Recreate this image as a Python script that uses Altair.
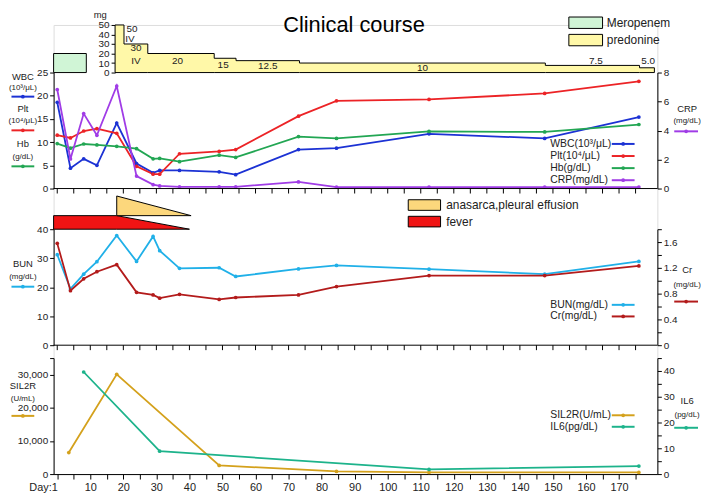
import altair as alt
import pandas as pd

FONT = "Liberation Sans, Arial, sans-serif"
XMIN, XMAX = -1.1, 181.6
W = 609

# ---------------- data ----------------
days = [0, 4, 8, 12, 18, 24, 29, 31, 37, 49, 54, 73, 84.5, 112.5, 147.5, 176]
wbc = [18.6, 4.4, 6.4, 5.0, 14.1, 5.4, 3.4, 3.9, 3.9, 3.6, 3.0, 8.4, 8.7, 11.8, 10.8, 15.4]
plt_ = [11.5, 10.9, 12.4, 12.9, 11.9, 4.8, 3.1, 3.1, 7.5, 8.0, 8.4, 15.6, 18.9, 19.2, 20.5, 23.1]
hb = [9.7, 8.7, 9.6, 9.4, 9.1, 8.6, 6.4, 6.5, 5.8, 7.2, 6.7, 11.2, 10.8, 12.3, 12.2, 13.8]
crp = [6.83, 2.04, 5.17, 3.67, 7.07, 0.86, 0.27, 0.18, 0.12, 0.12, 0.12, 0.46, 0.1, 0.1, 0.1, 0.1]
bun = [31.2, 19.4, 24.5, 28.8, 37.8, 28.9, 37.5, 32.6, 26.5, 26.7, 23.7, 26.3, 27.5, 26.2, 24.5, 28.9]
cr = [1.58, 0.845, 1.03, 1.14, 1.25, 0.82, 0.78, 0.73, 0.79, 0.71, 0.74, 0.78, 0.91, 1.08, 1.08, 1.23]

sil2r_days = [3.5, 18, 49, 84.5, 112.5, 176]
sil2r = [6500, 30100, 2600, 800, 500, 500]
il6_days = [8, 31, 112.5, 176]
il6 = [39.6, 8.9, 1.8, 3.1]

pred_days = [17.5, 20.2, 27.4, 47.5, 54.1, 73.3, 147.7, 176.2, 180.7]
pred_dose = [50, 30, 20, 15, 12.5, 10, 7.5, 5.0, 5.0]
pred_text = ["50", "IV", "30", "IV", "20", "15", "12.5", "10", "7.5", "5.0"]
pred_text_day = [22.6, 22.0, 23.8, 23.8, 36.4, 50.2, 63.7, 110.5, 163.0, 178.8]
pred_text_mg = [45.4, 35.0, 26.0, 12.5, 12.5, 7.8, 6.5, 4.6, 12.5, 11.6]

mero_days = [XMIN, 8.8]
mero_dose = [0, 20]

fever_days = [XMIN, 18, 40]
fever_top = [1, 1, 0]
anas_days = [18, 40.5]
anas_top = [2.45, 1]
anas_base = [1, 1]

tick_days = list(range(0, 176, 5))

# ---------------- styles ----------------
BLUE = "#1c32d4"
RED = "#ec2326"
GREEN = "#22a653"
PURPLE = "#a03ce6"
LBLUE = "#20b0e8"
DRED = "#b31b1b"
GOLD = "#d4a11c"
TEAL = "#1db38b"
MERO = "#d0f5d6"
PRED = "#fff8a8"
ANAS = "#fcd77c"
FEVER = "#f01414"
TXT = "#222222"

# ---------------- vertical layout (pixels from the top of the plot) ----------------
T0, PH = 0, 48                 # prednisone strip
T1, H1 = T0 + PH, 117          # WBC / Plt / Hb / CRP
T2, BAND, H2 = T1 + H1, 41, 117  # fever band + BUN / Cr
T3, GAP, H3 = T2 + BAND + H2, 13, 117  # SIL2R / IL6
HT = T3 + GAP + H3

xs = alt.Scale(domain=[XMIN, XMAX], nice=False, zero=False)

AXB = alt.Axis(
    values=tick_days, tickSize=5, tickColor="black", domainColor="black",
    grid=False, title=None,
    labelExpr="datum.value == 0 ? 'Day:1' : (datum.value % 10 == 0 ? datum.label : '')",
    labelFont=FONT, labelFontSize=11, labelColor=TXT, labelPadding=3,
    labelFlush=False, labelOverlap=False,
    labelAlign={"condition": {"test": "datum.value == 0", "value": "right"}, "value": "center"},
)


def yaxis(orient, values, expr=None, offset=None, size=10):
    kw = dict(orient=orient, values=values, tickSize=4, tickColor="black", domainColor="black",
              title=None, grid=False, labelFont=FONT, labelFontSize=size, labelColor=TXT,
              labelPadding=2, labelOverlap=False, labelFlush=False)
    if expr:
        kw["labelExpr"] = expr
    if offset is not None:
        kw["offset"] = offset
    return alt.Axis(**kw)


def yscale(domain, top, height):
    return alt.Scale(domain=domain, range=[top + height, top], nice=False, zero=True)


def series(d, v, color, ysc, yax):
    df = pd.DataFrame({"day": d, "v": v})
    return alt.Chart(df).mark_line(
        color=color, strokeWidth=1.8,
        point=alt.OverlayMarkDef(color=color, filled=True, size=14)
    ).encode(x=alt.X("day:Q", scale=xs, axis=AXB), y=alt.Y("v:Q", scale=ysc, axis=yax))


def text_at(t, x, y, size=10.5, align="center", baseline="middle", color=TXT):
    d = pd.DataFrame({"t": [t]})
    return alt.Chart(d).mark_text(font=FONT, fontSize=size, align=align, baseline=baseline,
                                  color=color).encode(x=alt.value(x), y=alt.value(y), text="t:N")


def hline(y, x0=0, x1=W, color="black", width=1):
    d = pd.DataFrame({"t": [0]})
    return alt.Chart(d).mark_rule(color=color, strokeWidth=width).encode(
        x=alt.value(x0), x2=alt.value(x1), y=alt.value(y))


def box(x0, x1, y0, y1, fill):
    d = pd.DataFrame({"t": [0]})
    return alt.Chart(d).mark_rect(fill=fill, stroke="black", strokeWidth=1).encode(
        x=alt.value(x0), x2=alt.value(x1), y=alt.value(y0), y2=alt.value(y1))


def bottom_ticks(h):
    """base line and day ticks under the upper panels (labels only under the last one)."""
    td = pd.DataFrame({"day": tick_days})
    ticks = alt.Chart(td).mark_rule(color="black", strokeWidth=1).encode(
        x=alt.X("day:Q", scale=xs, axis=AXB), y=alt.value(h), y2=alt.value(h + 5))
    return [hline(h), ticks]


def sample(color, x0, x1, y):
    d = pd.DataFrame({"t": [0]})
    p = alt.Chart(d).mark_point(filled=True, size=14, color=color, opacity=1).encode(
        x=alt.value((x0 + x1) / 2), y=alt.value(y))
    return [hline(y, x0, x1, color, 2), p]


def series_legend(items, ys):
    out = []
    for (lab, col), y in zip(items, ys):
        out.append(text_at(lab, 501, y, size=10.5, align="left"))
        out += sample(col, 563, 586, y)
    return out


LC = -31
LX0, LX1 = LC - 11.5, LC + 11.5
RC = 639
RX0, RX1 = 626, 650


def side(name, unit, color, cx, x0, x1, y_name, y_unit, y_line):
    return [text_at(name, cx, y_name, size=9.5), text_at(unit, cx, y_unit, size=8)] + sample(color, x0, x1, y_line)


layers = []

# ---------------- prednisone strip ----------------
pred_y = yscale([0, 50], T0, PH)
pred_ax = yaxis("left", [0, 10, 20, 30, 40, 50], offset=-62, size=10)
pred_df = pd.DataFrame({"day": pred_days, "dose": pred_dose})
mero_df = pd.DataFrame({"d0": [mero_days[0]], "d1": [mero_days[1]], "m0": [mero_dose[0]], "m1": [mero_dose[1]]})
pt_df = pd.DataFrame({"day": pred_text_day, "mg": pred_text_mg, "t": pred_text})
layers += [
    alt.Chart(mero_df).mark_rect(fill=MERO, stroke="black", strokeWidth=1).encode(
        x=alt.X("d0:Q", scale=xs, axis=AXB), x2="d1:Q",
        y=alt.Y("m0:Q", scale=pred_y, axis=None), y2="m1:Q"),
    alt.Chart(pred_df).mark_area(
        interpolate="step-after", fill=PRED, stroke="black", strokeWidth=1, fillOpacity=1
    ).encode(x=alt.X("day:Q", scale=xs, axis=AXB), y=alt.Y("dose:Q", scale=pred_y, axis=pred_ax)),
    alt.Chart(pt_df).mark_text(font=FONT, fontSize=10, color=TXT).encode(
        x=alt.X("day:Q", scale=xs, axis=AXB), y=alt.Y("mg:Q", scale=pred_y, axis=None), text="t:N"),
    text_at("Clinical course", 303, T0 - 10, size=22, baseline="top", color="black"),
    text_at("mg", 47, T0 - 5, size=9.5, baseline="bottom"),
]
for (lab, col), (y0, y1) in zip([("Meropenem", MERO), ("predonine", PRED)], [(-8, 3.5), (9.5, 21)]):
    layers += [box(519.7, 553.7, T0 + y0, T0 + y1, col), text_at(lab, 558, T0 + (y0 + y1) / 2, size=12, align="left")]

# ---------------- panel 1: WBC / Plt / Hb / CRP ----------------
df1 = pd.DataFrame({
    "day": days * 3,
    "v": wbc + plt_ + hb,
    "s": ["WBC"] * len(days) + ["Plt"] * len(days) + ["Hb"] * len(days),
})
layers.append(alt.Chart(df1).mark_line(
    strokeWidth=1.8, point=alt.OverlayMarkDef(filled=True, size=14)
).encode(
    x=alt.X("day:Q", scale=xs, axis=AXB),
    y=alt.Y("v:Q", scale=yscale([0, 25], T1, H1), axis=yaxis("left", [0, 5, 10, 15, 20, 25])),
    color=alt.Color("s:N", scale=alt.Scale(domain=["Hb", "WBC", "Plt"], range=[GREEN, BLUE, RED]), legend=None),
))
layers.append(series(days, crp, PURPLE, yscale([0, 8], T1, H1), yaxis("right", [0, 2, 4, 6, 8])))
layers += (
    bottom_ticks(T1 + H1)
    + side("WBC", "(10³/μL)", BLUE, LC, LX0, LX1, T1 + 4.3, T1 + 15.3, T1 + 24.3)
    + side("Plt", "(10⁴/μL)", RED, LC, LX0, LX1, T1 + 37, T1 + 49.3, T1 + 58.3)
    + side("Hb", "(g/dL)", GREEN, LC, LX0, LX1, T1 + 72, T1 + 85, T1 + 94.6)
    + side("CRP", "(mg/dL)", PURPLE, RC, RX0, RX1, T1 + 37, T1 + 48.6, T1 + 59.3)
    + series_legend([("WBC(10³/μL)", BLUE), ("Plt(10⁴/μL)", RED), ("Hb(g/dL)", GREEN), ("CRP(mg/dL)", PURPLE)],
                    [T1 + 72, T1 + 84.2, T1 + 96.4, T1 + 108.6])
)

# ---------------- fever / anasarca band ----------------
tri_y = yscale([0, 3], T2, BAND)
fever_df = pd.DataFrame({"day": fever_days, "top": fever_top, "base": [0] * len(fever_days)})
anas_df = pd.DataFrame({"day": anas_days, "top": anas_top, "base": anas_base})
layers += [
    alt.Chart(fever_df).mark_area(fill=FEVER, stroke="black", strokeWidth=1, fillOpacity=1).encode(
        x=alt.X("day:Q", scale=xs, axis=AXB), y=alt.Y("top:Q", scale=tri_y, axis=None), y2="base:Q"),
    alt.Chart(anas_df).mark_area(fill=ANAS, stroke="black", strokeWidth=1, fillOpacity=1).encode(
        x=alt.X("day:Q", scale=xs, axis=AXB), y=alt.Y("top:Q", scale=tri_y, axis=None), y2="base:Q"),
]
for (lab, col), (y0, y1) in zip([("anasarca,pleural effusion", ANAS), ("fever", FEVER)], [(11.3, 22), (28, 38.7)]):
    layers += [box(357.7, 390.3, T2 + y0, T2 + y1, col), text_at(lab, 396, T2 + (y0 + y1) / 2, size=12, align="left")]

# ---------------- panel 2: BUN / Cr ----------------
P2 = T2 + BAND
cr_vals = [round(i * 0.2, 1) for i in range(10)]
layers += [
    series(days, bun, LBLUE, yscale([0, 40], P2, H2), yaxis("left", [0, 10, 20, 30, 40])),
    series(days, cr, DRED, yscale([0, 1.8], P2, H2),
           yaxis("right", cr_vals,
                 expr="round(datum.value*10) % 4 == 0 ? (datum.value == 0 ? '0' : format(datum.value, '.1f')) : ''")),
]
layers += (
    bottom_ticks(P2 + H2)
    + side("BUN", "(mg/dL)", LBLUE, LC, LX0, LX1, P2 + 35.6, P2 + 48, P2 + 58)
    + side("Cr", "(mg/dL)", DRED, RC, RX0, RX1, P2 + 41.3, P2 + 56.3, P2 + 73)
    + series_legend([("BUN(mg/dL)", LBLUE), ("Cr(mg/dL)", DRED)], [P2 + 76.3, P2 + 88])
)

# ---------------- panel 3: SIL2R / IL6 ----------------
P3 = T3 + GAP
layers += [
    series(sil2r_days, sil2r, GOLD, yscale([0, 35000], P3, H3),
           yaxis("left", [0, 10000, 20000, 30000, 35000],
                 expr="datum.value <= 30000 ? format(datum.value, ',') : ''")),
    series(il6_days, il6, TEAL, yscale([0, 45], P3, H3),
           yaxis("right", list(range(0, 46, 5)), expr="datum.value % 10 == 0 ? datum.label : ''")),
]
layers += (
    side("SIL2R", "(U/mL)", GOLD, LC, LX0, LX1, P3 + 28, P3 + 41, P3 + 58.3)
    + side("IL6", "(pg/dL)", TEAL, RC, RX0, RX1, P3 + 43.3, P3 + 57, P3 + 70.3)
    + series_legend([("SIL2R(U/mL)", GOLD), ("IL6(pg/dL)", TEAL)], [P3 + 57.7, P3 + 69.3])
)

chart = alt.layer(*layers).resolve_scale(y="independent").properties(
    width=W, height=HT, padding=0
).configure_view(stroke=None).configure(font=FONT)

chart.save("out.html", embed_options={"renderer": "svg", "actions": False})
